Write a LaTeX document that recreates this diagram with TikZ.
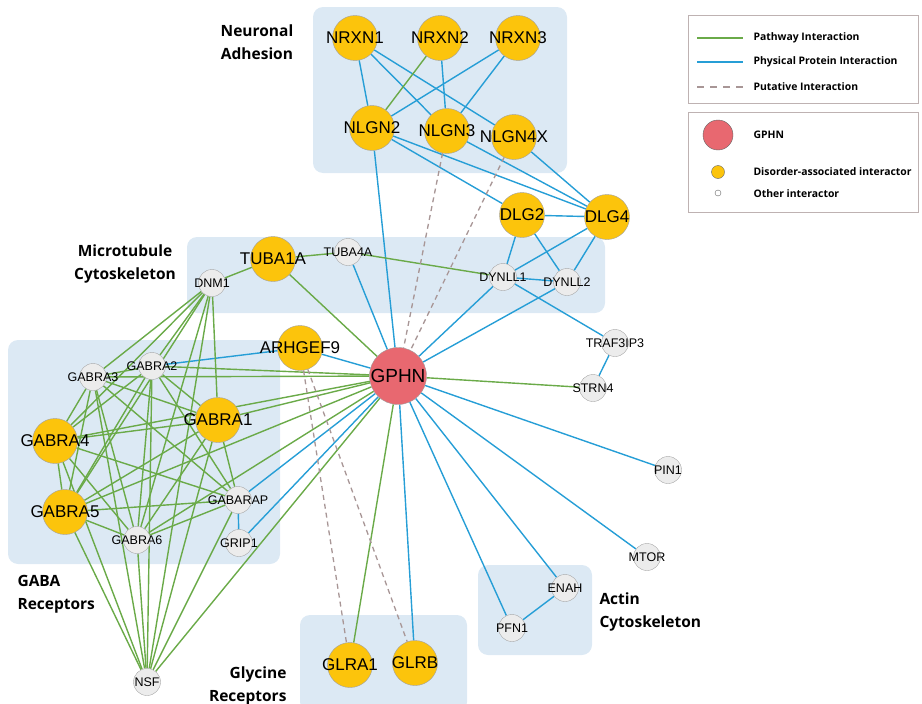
\documentclass[tikz,border=0pt]{standalone}
\usepackage{fontspec}
\setmainfont{Liberation Sans}
\newfontfamily\groupfont{Open Sans}

\definecolor{pathgreen}{RGB}{106,170,72}
\definecolor{physblue}{RGB}{38,158,214}
\definecolor{putagray}{RGB}{168,150,150}
\definecolor{regionblue}{RGB}{220,233,244}
\definecolor{hubred}{RGB}{232,104,112}
\definecolor{disyellow}{RGB}{252,196,12}
\definecolor{othergray}{RGB}{236,236,236}
\definecolor{legendline}{RGB}{190,178,178}

\pgfdeclarelayer{regions}
\pgfdeclarelayer{links}
\pgfsetlayers{regions,links,main}

\begin{document}
\begin{tikzpicture}[
        x=1pt, y=-1pt,
        big/.style={circle, draw=gray!75, fill=disyellow, minimum size=45pt, inner sep=0pt,
                    label={[font=\fontsize{17}{17}\selectfont]center:#1}},
        small/.style={circle, draw=gray!70, fill=othergray, minimum size=27pt, inner sep=0pt,
                    label={[font=\fontsize{12.5}{12.5}\selectfont]center:#1}},
        hub/.style={circle, draw=gray!75, fill=hubred, minimum size=57pt, inner sep=0pt,
                    label={[font=\fontsize{19}{19}\selectfont]center:#1}},
        pathway/.style={pathgreen, line width=1.4pt},
        physical/.style={physblue, line width=1.4pt},
        putative/.style={putagray, line width=1.3pt, dash pattern=on 5pt off 4pt},
        grouplabel/.style={font=\groupfont\bfseries\fontsize{15.5}{23}\selectfont},
        legendtext/.style={font=\groupfont\bfseries\fontsize{10.4}{10.4}\selectfont, anchor=west},
    ]
    \useasboundingbox (0,0) rectangle (922,704);

    % shaded groups
    \begin{pgfonlayer}{regions}
    \fill[regionblue, rounded corners=10pt] (313,7) rectangle (567,173);
    \fill[regionblue, rounded corners=10pt] (187,237) rectangle (605,313);
    \fill[regionblue, rounded corners=10pt] (8,340) rectangle (280,564);
    \fill[regionblue, rounded corners=10pt] (300,615) rectangle (467,712);
    \fill[regionblue, rounded corners=10pt] (478,565) rectangle (592,655);
    \end{pgfonlayer}

    \node[grouplabel, align=center] (adhesion) at (257,42) {Neuronal\\Adhesion};
    \node[grouplabel, align=center] (microtub) at (125,264) {Microtubule\\Cytoskeleton};
    \node[grouplabel, align=left, anchor=west] (gabalab) at (14,594) {GABA\\Receptors};
    \node[grouplabel, align=right, anchor=east] (glylab) at (290,686) {Glycine\\Receptors};
    \node[grouplabel, align=left, anchor=west] (actinlab) at (596,612) {Actin\\Cytoskeleton};

    % interactors
    \node[big=NRXN1] (NRXN1) at (355,38) {};
    \node[big=NRXN2] (NRXN2) at (440,38) {};
    \node[big=NRXN3] (NRXN3) at (518,38) {};
    \node[big=NLGN2] (NLGN2) at (372,128) {};
    \node[big=NLGN3] (NLGN3) at (447,131) {};
    \node[big=NLGN4X] (NLGN4X) at (514,137) {};
    \node[big=DLG2] (DLG2) at (522,215) {};
    \node[big=DLG4] (DLG4) at (607,217) {};
    \node[small=TUBA4A] (TUBA4A) at (348,252) {};
    \node[big=TUBA1A] (TUBA1A) at (273,259) {};
    \node[small=DNM1] (DNM1) at (212,283) {};
    \node[small=DYNLL1] (DYNLL1) at (503,277) {};
    \node[small=DYNLL2] (DYNLL2) at (567,282) {};
    \node[big=ARHGEF9] (ARHGEF9) at (300,348) {};
    \node[small=GABRA2] (GABRA2) at (152,366) {};
    \node[small=GABRA3] (GABRA3) at (93,377) {};
    \node[big=GABRA1] (GABRA1) at (218,420) {};
    \node[big=GABRA4] (GABRA4) at (55,441) {};
    \node[big=GABRA5] (GABRA5) at (65,512) {};
    \node[small=GABARAP] (GABARAP) at (238,500) {};
    \node[small=GABRA6] (GABRA6) at (137,540) {};
    \node[small=GRIP1] (GRIP1) at (239,543) {};
    \node[small=NSF] (NSF) at (147,682) {};
    \node[big=GLRA1] (GLRA1) at (350,665) {};
    \node[big=GLRB] (GLRB) at (415,663) {};
    \node[small=TRAF3IP3] (TRAF3IP3) at (615,343) {};
    \node[small=STRN4] (STRN4) at (593,388) {};
    \node[small=PIN1] (PIN1) at (668,470) {};
    \node[small=MTOR] (MTOR) at (647,557) {};
    \node[small=ENAH] (ENAH) at (565,588) {};
    \node[small=PFN1] (PFN1) at (512,628) {};
    \node[hub=GPHN] (GPHN) at (398,376) {};

    \begin{pgfonlayer}{links}
    \foreach \a/\b in {NRXN1/NLGN2, NRXN1/NLGN3, NRXN1/NLGN4X, NRXN2/NLGN3,
                       NRXN3/NLGN2, NRXN3/NLGN3, NLGN2/DLG2, NLGN2/DLG4,
                       NLGN3/DLG4, NLGN4X/DLG4, DLG2/DLG4, NLGN2/GPHN,
                       DLG2/DYNLL1, DLG2/DYNLL2, DLG4/DYNLL1, DLG4/DYNLL2,
                       DYNLL1/DYNLL2, DYNLL1/GPHN, DYNLL2/GPHN, DYNLL1/TRAF3IP3,
                       TRAF3IP3/STRN4, TUBA4A/GPHN, ARHGEF9/GPHN, GABRA2/ARHGEF9,
                       GPHN/GLRB, GPHN/PFN1, GPHN/ENAH, GPHN/MTOR, GPHN/PIN1,
                       ENAH/PFN1, GPHN/GABARAP, GPHN/GRIP1, GABARAP/GRIP1}
        \draw[physical] (\a) -- (\b);

    \foreach \a/\b in {NRXN2/NLGN2, STRN4/GPHN, TUBA4A/DYNLL1, TUBA4A/TUBA1A,
                       TUBA1A/DNM1, TUBA1A/GPHN, GPHN/GLRA1, GPHN/NSF,
                       DNM1/NSF, GABARAP/NSF}
        \draw[pathway] (\a) -- (\b);

    % receptor subunits
    \foreach \a [count=\i] in {GABRA1, GABRA2, GABRA3, GABRA4, GABRA5, GABRA6}
        \foreach \b [count=\j] in {GABRA1, GABRA2, GABRA3, GABRA4, GABRA5, GABRA6}
            {\ifnum\j>\i \draw[pathway] (\a) -- (\b); \fi}
    \foreach \a in {DNM1, GABARAP, NSF, GPHN}
        \foreach \b in {GABRA1, GABRA2, GABRA3, GABRA4, GABRA5, GABRA6}
            \draw[pathway] (\a) -- (\b);

    \foreach \a/\b in {NLGN3/GPHN, NLGN4X/GPHN, ARHGEF9/GLRA1, ARHGEF9/GLRB}
        \draw[putative] (\a) -- (\b);
    \end{pgfonlayer}

    % legend
    \draw[legendline, fill=white, line width=0.8pt] (688,15) rectangle (918,103);
    \coordinate (pw0) at (697,38);  \coordinate (pw1) at (743,38);
    \coordinate (ph0) at (697,62);  \coordinate (ph1) at (743,62);
    \coordinate (pu0) at (697,87);  \coordinate (pu1) at (743,87);
    \draw[pathway, line width=2pt] (pw0) -- (pw1);
    \draw[physical, line width=2pt] (ph0) -- (ph1);
    \draw[putative, line width=2pt, dash pattern=on 7pt off 6pt] (pu0) -- (pu1);
    \node[legendtext] (pwtext) at (750,38) {Pathway Interaction};
    \node[legendtext] (phtext) at (750,62) {Physical Protein Interaction};
    \node[legendtext] (putext) at (750,87) {Putative Interaction};

    \draw[legendline, fill=white, line width=0.8pt] (688,112) rectangle (918,212);
    \node[circle, draw=gray!80!black, fill=hubred, minimum size=30pt, inner sep=0pt] (keyhub) at (718,135) {};
    \node[circle, draw=gray!80!black, fill=disyellow, minimum size=13pt, inner sep=0pt] (keybig) at (718,172) {};
    \node[circle, draw=gray!80!black, fill=white, minimum size=6pt, inner sep=0pt] (keysmall) at (718,193) {};
    \node[legendtext] (hubtext) at (750,135) {GPHN};
    \node[legendtext] (bigtext) at (750,172) {Disorder-associated interactor};
    \node[legendtext] (smalltext) at (750,194) {Other interactor};
\end{tikzpicture}
\end{document}
